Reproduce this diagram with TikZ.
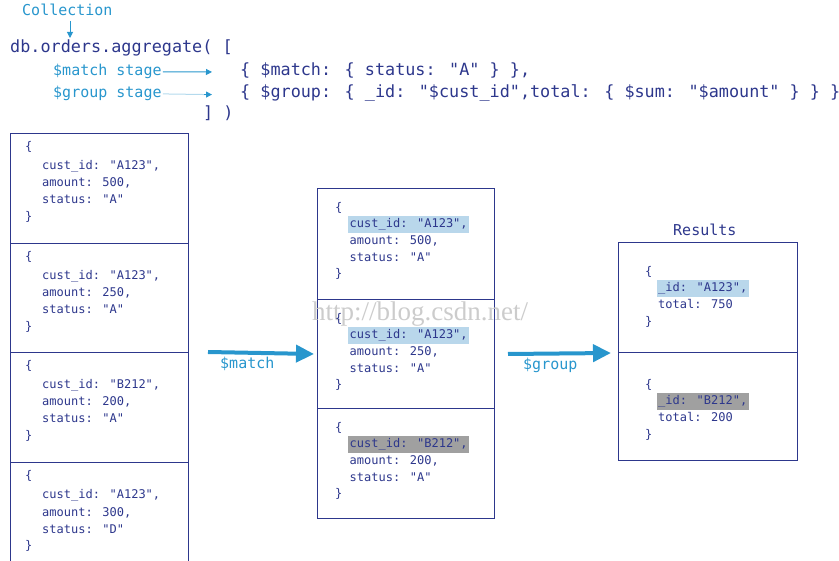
\documentclass[tikz,border=0pt]{standalone}
\usepackage{fontspec}
\newfontfamily\code{DejaVu Sans Mono}
\newfontfamily\wmfont{Liberation Serif}
\usetikzlibrary{arrows.meta}
\definecolor{navy}{RGB}{45,55,140}
\definecolor{cblue}{RGB}{40,150,205}
\definecolor{hlblue}{RGB}{185,215,235}
\definecolor{hlgray}{RGB}{160,160,160}
\begin{document}
\begin{tikzpicture}[x=1pt,y=-1pt,
  sec/.style={draw=navy, line width=1pt, anchor=north west, inner sep=0, minimum width=#1},
  sec/.default=178pt,
  t/.style={anchor=base west, inner sep=0, text=navy, font=\code\fontsize{12}{12}\selectfont},
  hl/.style={t, fill=hlblue, inner xsep=1.5pt, inner ysep=2.5pt},
  hg/.style={t, fill=hlgray, inner xsep=1.5pt, inner ysep=2.5pt},
  big/.style={anchor=base west, inner sep=0, text=navy, font=\code\fontsize{16.8}{16.8}\selectfont},
  lbl/.style={anchor=base west, inner sep=0, text=cblue, font=\code\fontsize{15}{15}\selectfont},
  smallarrow/.style={draw=cblue, line width=1pt, -{Triangle[length=6pt,width=6pt]}},
  bigarrow/.style={draw=cblue, line width=4pt, -{Triangle[length=18pt,width=17pt]}}]
\useasboundingbox (0,0) rectangle (839,561);

% header
\node[lbl] (coll) at (22,16) {Collection};
\node[big] (db) at (10,53) {db.orders.aggregate( [};
\node[lbl] (mst) at (53,76) {\$match stage};
\node[lbl] (gst) at (53,98) {\$group stage};
\node[big] (mcode) at (240,76) {\{ \$match: \{ status: "A" \} \},};
\node[big] (gcode) at (240,98) {\{ \$group: \{ \_id: "\$cust\_id",total: \{ \$sum: "\$amount" \} \} \}};
\node[big] (close) at (203,119) {] )};
\coordinate (ca) at (70,21);
\coordinate (cb) at (70,38);
\draw[smallarrow] (ca) -- (cb);
\draw[smallarrow] ([xshift=1pt]mst.east) -- ([xshift=-28pt,yshift=-1pt]mcode.west);
\draw[draw=cblue!35, line width=1pt] ([xshift=1pt]gst.east) -- ([xshift=-34pt,yshift=-1pt]gcode.west);
\draw[smallarrow, draw=cblue] ([xshift=-36pt,yshift=-1pt]gcode.west) -- ([xshift=-28pt,yshift=-1pt]gcode.west);

% left collection
\node[sec, minimum height=110pt] (L1) at (10,133) {};
\node[sec, minimum height=109pt] (L2) at (10,243) {};
\node[sec, minimum height=110pt] (L3) at (10,352) {};
\node[sec, minimum height=120pt] (L4) at (10,462) {};
\foreach \i/\yy/\id/\am/\st in {1/133/A123/500/A, 2/243/A123/250/A, 3/352/B212/200/A, 4/462/A123/300/D}{
  \node[t] (L\i a) at (25,\yy+18) {\{};
  \node[t] (L\i b) at (42,\yy+37) {cust\_id: "\id",};
  \node[t] (L\i c) at (42,\yy+54) {amount: \am,};
  \node[t] (L\i d) at (42,\yy+71) {status: "\st"};
  \node[t] (L\i e) at (25,\yy+88) {\}};
}

% middle
\node[sec=177pt, minimum height=111pt] (M1) at (317,188) {};
\node[sec=177pt, minimum height=109pt] (M2) at (317,299) {};
\node[sec=177pt, minimum height=110pt] (M3) at (317,408) {};

% watermark
\node[anchor=base west, inner sep=0, text=gray!40, font=\wmfont\fontsize{27}{27}\selectfont] (wm) at (312,321) {http://blog.csdn.net/};

\foreach \i/\yy/\id/\am/\st in {1/188/A123/500/hl, 2/299/A123/250/hl, 3/408/B212/200/hg}{
  \node[t] (M\i a) at (335,\yy+24) {\{};
  \node[\st] (M\i b) at (348,\yy+40) {cust\_id: "\id",};
  \node[t] (M\i c) at (349.5,\yy+57) {amount: \am,};
  \node[t] (M\i d) at (349.5,\yy+74) {status: "A"};
  \node[t] (M\i e) at (335,\yy+90) {\}};
}

% results
\node[lbl, text=navy] (res) at (673,236) {Results};
\node[sec=179pt, minimum height=110pt] (R1) at (618,242) {};
\node[sec=179pt, minimum height=108pt] (R2) at (618,352) {};
\node[t] (R1a) at (645,276) {\{};
\node[hl] (R1b) at (656.5,292) {\_id: "A123",};
\node[t] (R1c) at (658,309) {total: 750};
\node[t] (R1d) at (645,326) {\}};
\node[t] (R2a) at (645,389) {\{};
\node[hg] (R2b) at (656.5,405) {\_id: "B212",};
\node[t] (R2c) at (658,422) {total: 200};
\node[t] (R2d) at (645,439) {\}};

% stage arrows
\draw[bigarrow] ([xshift=19pt]L3.north east) -- ([xshift=-3pt]M2.west);
\node[lbl] (ml) at (220,369) {\$match};
\draw[bigarrow] ([xshift=13pt]M2.east) -- ([xshift=-7pt]R1.south west);
\node[lbl] (gl) at (523,370) {\$group};
\end{tikzpicture}
\end{document}
